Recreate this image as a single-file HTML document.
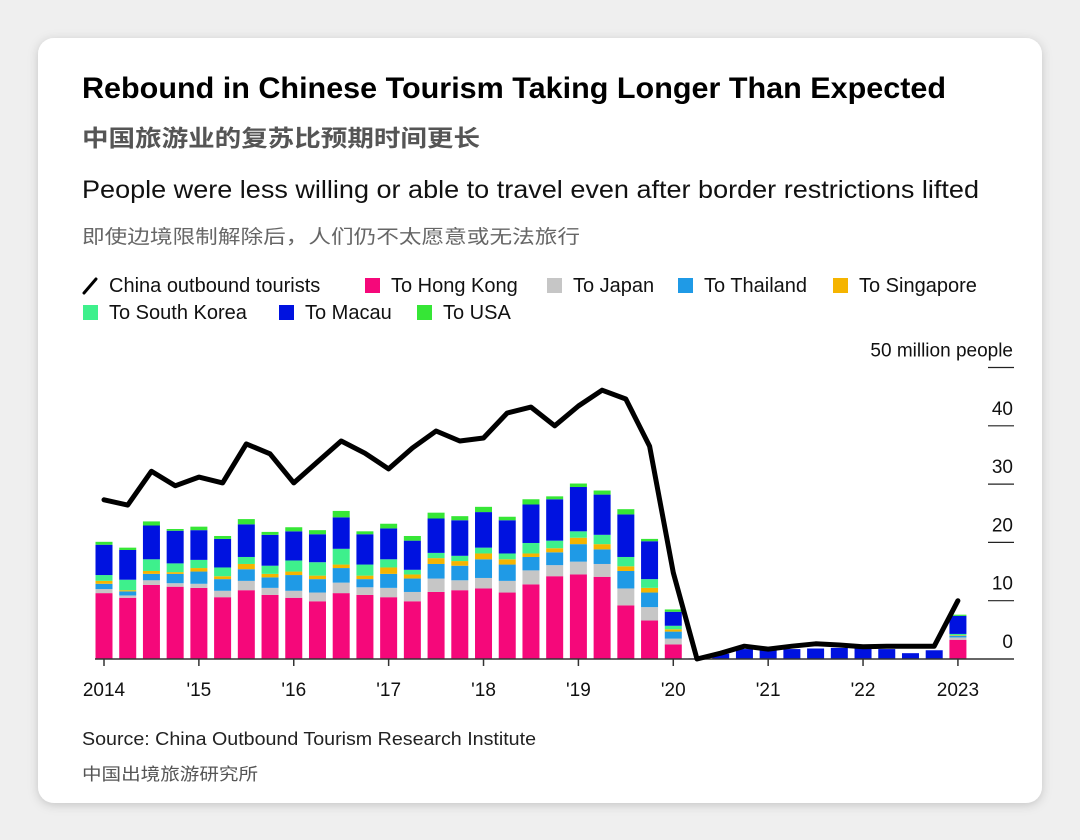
<!DOCTYPE html>
<html><head><meta charset="utf-8"><style>
html,body{margin:0;padding:0;background:#efefef;}
svg{display:block;}
text{font-family:"Liberation Sans","Noto Sans CJK SC",sans-serif;}
</style></head><body>
<svg id="chart" width="1080" height="840" viewBox="0 0 1080 840">
<defs><filter id="sh" x="-5%" y="-5%" width="110%" height="110%"><feDropShadow dx="0" dy="2" stdDeviation="5" flood-color="#000" flood-opacity="0.18"/></filter></defs>
<rect x="38" y="38" width="1004" height="765" rx="16" fill="#fff" filter="url(#sh)"/>
<text x="82" y="98" font-size="30" font-weight="bold" fill="#000" textLength="864" lengthAdjust="spacingAndGlyphs">Rebound in Chinese Tourism Taking Longer Than Expected</text>
<text x="82" y="146" font-size="23" font-weight="bold" fill="#555" textLength="398" lengthAdjust="spacingAndGlyphs">中国旅游业的复苏比预期时间更长</text>
<text x="82" y="198" font-size="25" fill="#111" textLength="897" lengthAdjust="spacingAndGlyphs">People were less willing or able to travel even after border restrictions lifted</text>
<text x="82" y="243" font-size="19" fill="#666" textLength="498" lengthAdjust="spacingAndGlyphs">即使边境限制解除后，人们仍不太愿意或无法旅行</text>
<g id="legend"></g>
<g id="plot"></g>
<text x="82" y="745" font-size="18" fill="#222" textLength="454" lengthAdjust="spacingAndGlyphs">Source: China Outbound Tourism Research Institute</text>
<text x="82" y="780" font-size="17" fill="#555" textLength="176" lengthAdjust="spacingAndGlyphs">中国出境旅游研究所</text>
</svg>
<script>
// quarterly data, 2014Q1 .. 2023Q1, million people
const hongKong  = [11.3,10.5,12.7,12.4,12.2,10.6,11.8,11.0,10.5,9.9,11.3,11.0,10.6,9.9,11.5,11.8,12.1,11.4,12.8,14.2,14.5,14.1,9.2,6.6,2.5,0,0,0,0,0,0,0,0,0,0,0,3.3];
const japan     = [0.7,0.4,0.8,0.6,0.7,1.1,1.6,1.2,1.2,1.5,1.8,1.3,1.6,1.6,2.3,1.7,1.8,2.0,2.4,1.9,2.2,2.2,2.9,2.3,1.0,0,0,0,0,0,0,0,0,0,0,0,0.4];
const thailand  = [0.9,0.7,1.1,1.6,2.1,2.0,2.0,1.8,2.7,2.3,2.5,1.4,2.4,2.3,2.5,2.5,3.2,2.8,2.3,2.2,3.0,2.5,3.0,2.5,1.2,0,0,0,0,0,0,0,0,0,0,0,0.3];
const singapore = [0.5,0.2,0.5,0.3,0.6,0.5,0.9,0.6,0.6,0.6,0.6,0.6,1.1,0.7,1.0,0.8,1.0,0.9,0.6,0.7,1.1,0.9,0.8,0.8,0.4,0,0,0,0,0,0,0,0,0,0,0,0.1];
const korea     = [1.0,1.8,2.0,1.5,1.4,1.5,1.2,1.4,1.9,2.3,2.7,1.9,1.4,0.8,0.9,0.9,1.0,1.0,1.8,1.3,1.1,1.6,1.6,1.5,0.6,0,0,0,0,0,0,0,0,0,0,0,0.2];
const macau     = [5.2,5.1,5.8,5.6,5.1,4.9,5.6,5.3,5.0,4.8,5.4,5.2,5.3,5.0,5.9,6.1,6.1,5.7,6.6,7.1,7.6,6.9,7.3,6.5,2.4,0.1,0.9,1.7,1.5,1.7,1.8,1.9,1.8,1.7,1.0,1.5,3.1];
const usa       = [0.5,0.4,0.7,0.3,0.6,0.5,0.9,0.5,0.7,0.7,1.1,0.5,0.8,0.8,1.0,0.7,0.9,0.6,0.9,0.5,0.6,0.7,0.9,0.4,0.4,0,0,0,0,0,0,0,0,0,0,0,0.2];
const outbound  = [27.3,26.4,32.2,29.7,31.2,30.2,36.9,35.2,30.2,33.8,37.4,35.3,32.6,36.2,39.1,37.4,37.9,42.2,43.2,40.0,43.4,46.1,44.6,36.5,14.8,0,1.0,2.2,1.7,2.2,2.6,2.4,2.1,2.2,2.2,2.2,10.0];
const yTicks = [0,10,20,30,40,50];
const xTickLabels = ["2014","'15","'16","'17","'18","'19","'20","'21","'22","2023"];
const seriesNames = ["To Hong Kong","To Japan","To Thailand","To Singapore","To South Korea","To Macau","To USA"];
const seriesColors = ["#f5087a","#c6c6c6","#1f9ae6","#f5b400","#3ef08c","#0012e0","#36e636"];

const NS="http://www.w3.org/2000/svg";
function mk(tag, attrs, parent){const e=document.createElementNS(NS,tag);for(const k in attrs)e.setAttribute(k,attrs[k]);parent.appendChild(e);return e;}
const x0=104, qStep=23.72, y0=659, yPer=5.83;
const xScale = q => x0 + q*qStep;
const yScale = v => y0 - v*yPer;
const plot=document.getElementById('plot');
const legend=document.getElementById('legend');

yTicks.forEach(t=>{
  const y=yScale(t);
  if(t>0){const l=mk('line',{x1:988,x2:1014,y1:y,y2:y,stroke:'#222','stroke-width':1.2},plot);
  
  }
  const tx=mk('text',{x:1013,y:y-11,'font-size':19,'text-anchor':'end',fill:'#111'},plot);
  tx.textContent = t===50 ? '50 million people' : String(t);
  
  
});

const all=[hongKong,japan,thailand,singapore,korea,macau,usa];
for(let q=0;q<outbound.length;q++){
  let acc=0;
  all.forEach((s,i)=>{
    const v=s[q]; if(v<=0) return;
    const r=mk('rect',{x:xScale(q)-8.5,y:yScale(acc+v),width:17,height:v*yPer,fill:seriesColors[i]},plot);
    
    
    acc+=v;
  });
}

const base=mk('line',{x1:95,x2:1014,y1:y0,y2:y0,stroke:'#333','stroke-width':1.5},plot);


xTickLabels.forEach((lab,i)=>{
  const x=xScale(i*4);
  const tk=mk('line',{x1:x,x2:x,y1:y0,y2:y0+7,stroke:'#333','stroke-width':1.5},plot);
  
  
  const tx=mk('text',{x:x,y:696,'font-size':19,'text-anchor':'middle',fill:'#111'},plot);
  tx.textContent=lab;
  
  
});

const pts=outbound.map((v,q)=>xScale(q).toFixed(1)+','+yScale(v).toFixed(1)).join(' ');
const pl=mk('polyline',{points:pts,fill:'none',stroke:'#000','stroke-width':5,'stroke-linejoin':'round','stroke-linecap':'round'},plot);



const row1=[["line","China outbound tourists",82],[0,"To Hong Kong",364],[1,"To Japan",546],[2,"To Thailand",677],[3,"To Singapore",832]];
const row2=[[4,"To South Korea",82],[5,"To Macau",278],[6,"To USA",416]];
function legendEntry(item,y){
  const [k,label,x]=item;
  const g=mk('g',{},legend);
  
  
  if(k==='line'){mk('line',{x1:x+2,y1:y+2,x2:x+14,y2:y-12,stroke:'#000','stroke-width':3,'stroke-linecap':'round'},g);}
  else mk('rect',{x:x+1,y:y-13,width:15,height:15,fill:seriesColors[k]},g);
  const t=mk('text',{x:x+27,y:y+1,'font-size':20,fill:'#111'},g);
  t.textContent=label;
}
row1.forEach(it=>legendEntry(it,291));
row2.forEach(it=>legendEntry(it,318));
</script>
</body></html>
